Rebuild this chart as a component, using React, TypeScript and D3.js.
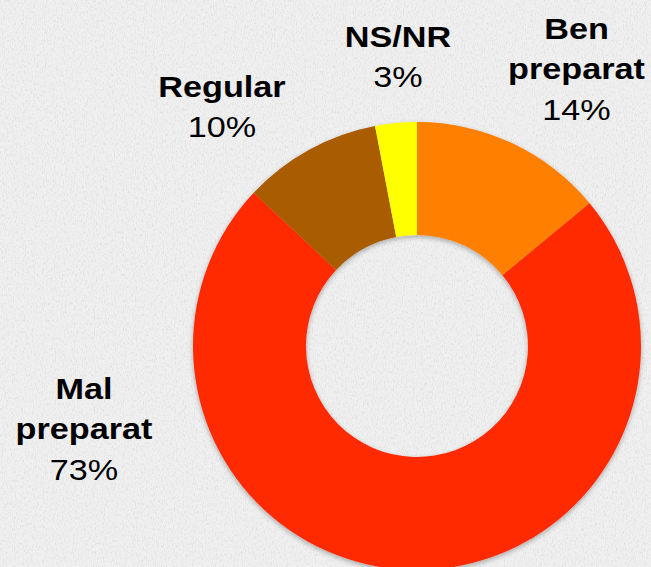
import React, {useRef, useEffect} from 'react'
import * as d3 from 'd3'

// slices, clockwise from 12 o'clock
const categories = ['Ben preparat', 'Mal preparat', 'Regular', 'NS/NR']
const values = [14, 73, 10, 3]
const colors = ['#ff7f00', '#ff2a00', '#aa5b00', '#ffff00']
// label text, bold lines first then the percentage
const labelLines = [['Ben', 'preparat'], ['Mal', 'preparat'], ['Regular'], ['NS/NR']]
const percentLabels = ['14%', '73%', '10%', '3%']

const layout = {width: 651, height: 567, cx: 417, cy: 346, outer: 224, inner: 111}
// where each label block sits (center x, first baseline)
const labelAnchors = [[576.5, 38.5], [84, 398.5], [222, 96.5], [398, 46.5]]

export default function App() {
	const ref = useRef<SVGSVGElement>(null)

	useEffect(() => {
		const svg = d3.select(ref.current)
		svg.selectAll('*').remove()

		const defs = svg.append('defs')
		const noise = defs.append('filter').attr('id', 'paper')
			.attr('x', 0).attr('y', 0).attr('width', '100%').attr('height', '100%')
		noise.append('feTurbulence').attr('type', 'fractalNoise')
			.attr('baseFrequency', '0.9 0.35').attr('numOctaves', 3).attr('seed', 4)
		noise.append('feColorMatrix').attr('type', 'matrix')
			.attr('values', '0 0 0 0 0  0 0 0 0 0  0 0 0 0 0  0 0 0 -1.4 0.75')

		const shadow = defs.append('filter').attr('id', 'shadow')
			.attr('x', '-10%').attr('y', '-10%').attr('width', '120%').attr('height', '120%')
		shadow.append('feDropShadow').attr('dx', 0).attr('dy', 2)
			.attr('stdDeviation', 2.5).attr('flood-color', '#000').attr('flood-opacity', 0.3)

		// paper background
		svg.append('rect').attr('width', layout.width).attr('height', layout.height).attr('fill', '#f0f0f0')
		svg.append('rect').attr('width', layout.width).attr('height', layout.height)
			.attr('filter', 'url(#paper)').attr('opacity', 0.12)

		const pie = d3.pie<number>().sort(null).value(d => d)
		const arc = d3.arc<d3.PieArcDatum<number>>()
			.innerRadius(layout.inner).outerRadius(layout.outer)

		const g = svg.append('g')
			.attr('transform', `translate(${layout.cx},${layout.cy})`)
			.attr('filter', 'url(#shadow)')

		g.selectAll('path')
			.data(pie(values))
			.join('path')
			.attr('d', arc)
			.attr('fill', (d, i) => colors[i])

		// labels
		const lineH = 40.5
		const labels = svg.append('g')
			.attr('font-family', 'Liberation Sans, Arial, sans-serif')
			.attr('font-size', 30)
			.attr('fill', '#000')

		categories.forEach((c, i) => {
			const [x, y] = labelAnchors[i]
			const lines = labelLines[i].map(t => ({t, bold: true})).concat([{t: percentLabels[i], bold: false}])
			const block = labels.append('g').attr('class', 'label')
			lines.forEach((l, j) => {
				block.append('text')
					.attr('transform', `translate(${x},${y + j * lineH}) scale(1.14,1)`)
					.attr('text-anchor', 'middle')
					.attr('font-weight', l.bold ? 'bold' : 'normal')
					.text(l.t)
			})
		})
	}, [])

	return (
		<svg ref={ref} width={layout.width} height={layout.height}
			style={{position: 'absolute', left: 0, top: 0, display: 'block'}} />
	)
}
